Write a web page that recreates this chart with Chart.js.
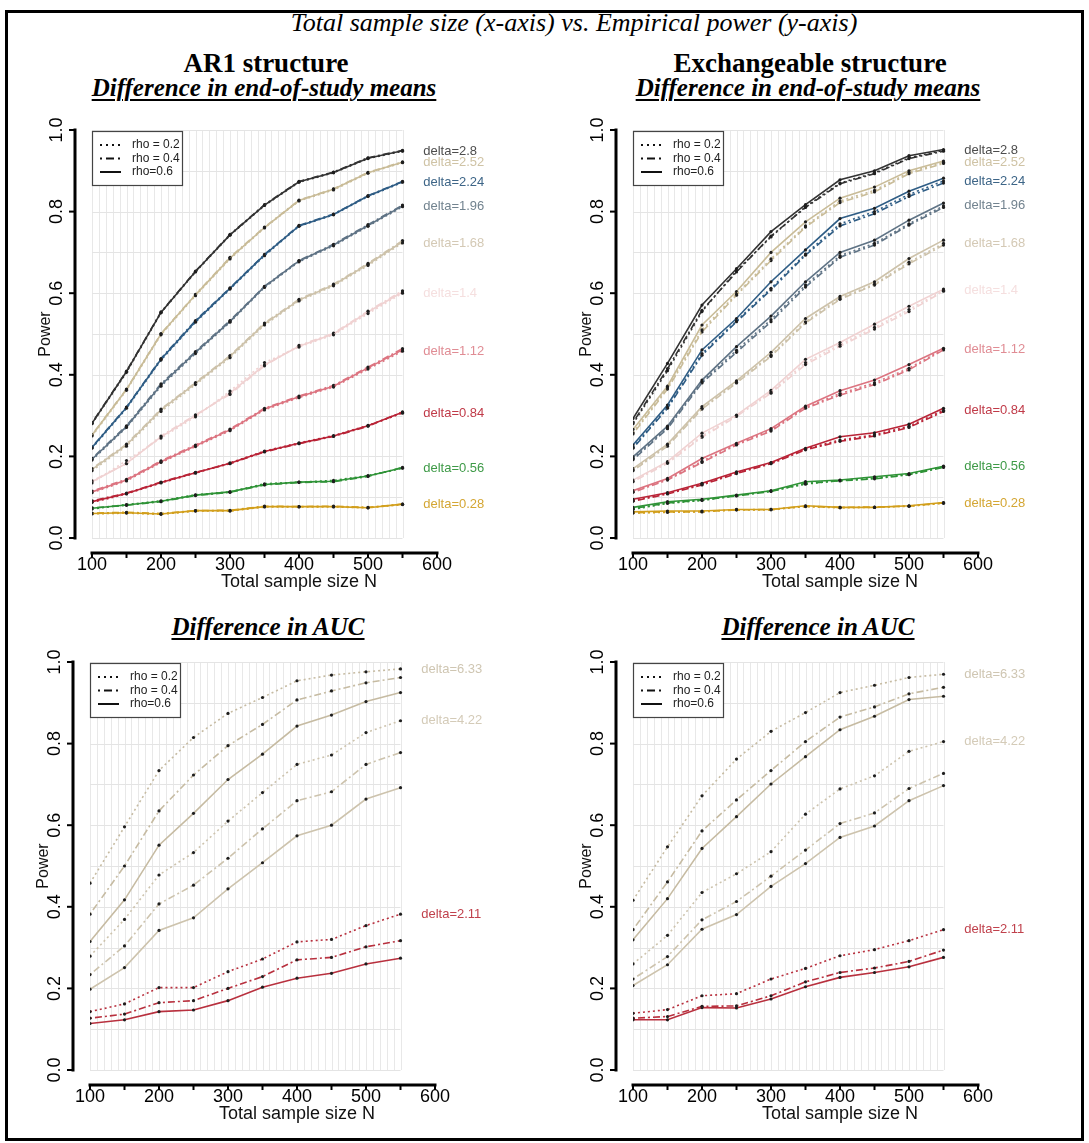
<!DOCTYPE html>
<html>
<head>
<meta charset="utf-8">
<title>Empirical power</title>
<script src="https://cdn.jsdelivr.net/npm/chart.js@4.4.1/dist/chart.umd.min.js"></script>
<style>
  body { margin: 0; background: #fff; width: 1089px; height: 1143px; position: relative; overflow: hidden; }
  .frame { position: absolute; left: 5px; top: 10px; width: 1073px; height: 1125px; border: 3px solid #000; }
  canvas { position: absolute; }
  .t { position: absolute; transform: translateX(-50%); font-family: "Liberation Serif", "Times New Roman", serif; color: #000; white-space: nowrap; line-height: 1; }
  .main { font-style: italic; font-size: 26px; }
  .struct { font-weight: bold; font-size: 27px; }
  .sub { font-weight: bold; font-style: italic; font-size: 25px; text-decoration: underline; text-decoration-thickness: 2px; text-underline-offset: 3px; }
</style>
</head>
<body>
<div class="frame"></div>
<div class="t main" style="left:574px; top:10px;">Total sample size (x-axis) vs. Empirical power (y-axis)</div>
<div class="t struct" style="left:266px; top:50px;">AR1 structure</div>
<div class="t struct" style="left:810px; top:50px;">Exchangeable structure</div>
<div class="t sub" style="left:264px; top:75px;">Difference in end-of-study means</div>
<div class="t sub" style="left:808px; top:75px;">Difference in end-of-study means</div>
<div class="t sub" style="left:268px; top:614px;">Difference in AUC</div>
<div class="t sub" style="left:818px; top:614px;">Difference in AUC</div>

<canvas id="ar1Means" width="540" height="520" style="left:0px; top:90px;"></canvas>
<canvas id="exchMeans" width="540" height="520" style="left:541px; top:90px;"></canvas>
<canvas id="ar1Auc" width="540" height="520" style="left:-2px; top:622px;"></canvas>
<canvas id="exchAuc" width="540" height="520" style="left:541px; top:622px;"></canvas>

<script>
// sample sizes simulated, and axis ticks
var sampleSizes = [100, 150, 200, 250, 300, 350, 400, 450, 500, 550];
var xTickLabels = [100, 200, 300, 400, 500, 600];
var yTickLabels = [0.0, 0.2, 0.4, 0.6, 0.8, 1.0];
var rhoLabels = ["rho = 0.2", "rho = 0.4", "rho=0.6"];

var meanDeltas = ["2.8", "2.52", "2.24", "1.96", "1.68", "1.4", "1.12", "0.84", "0.56", "0.28"];
var aucDeltas = ["6.33", "4.22", "2.11"];

// AR1 structure, difference in end-of-study means (one row per delta)
var ar1MeansRho02 = [
  [0.280, 0.406, 0.552, 0.652, 0.742, 0.815, 0.872, 0.895, 0.930, 0.948],
  [0.250, 0.362, 0.498, 0.594, 0.684, 0.760, 0.826, 0.853, 0.894, 0.920],
  [0.220, 0.318, 0.436, 0.529, 0.610, 0.692, 0.764, 0.792, 0.837, 0.872],
  [0.191, 0.271, 0.372, 0.452, 0.529, 0.614, 0.677, 0.716, 0.764, 0.812],
  [0.165, 0.225, 0.310, 0.376, 0.442, 0.522, 0.581, 0.618, 0.668, 0.723],
  [0.135, 0.190, 0.245, 0.297, 0.360, 0.430, 0.468, 0.498, 0.550, 0.600],
  [0.111, 0.140, 0.185, 0.224, 0.263, 0.314, 0.344, 0.370, 0.414, 0.458],
  [0.087, 0.108, 0.135, 0.159, 0.184, 0.213, 0.233, 0.251, 0.276, 0.306],
  [0.071, 0.082, 0.091, 0.106, 0.113, 0.133, 0.137, 0.141, 0.153, 0.171],
  [0.059, 0.061, 0.058, 0.066, 0.066, 0.076, 0.076, 0.076, 0.074, 0.082]
];
var ar1MeansRho04 = [
  [0.282, 0.409, 0.554, 0.654, 0.744, 0.817, 0.874, 0.897, 0.932, 0.950],
  [0.253, 0.365, 0.501, 0.597, 0.688, 0.762, 0.828, 0.856, 0.896, 0.922],
  [0.223, 0.321, 0.440, 0.533, 0.613, 0.695, 0.766, 0.794, 0.839, 0.874],
  [0.195, 0.275, 0.378, 0.457, 0.533, 0.617, 0.680, 0.720, 0.768, 0.816],
  [0.170, 0.230, 0.316, 0.381, 0.447, 0.527, 0.585, 0.622, 0.673, 0.729],
  [0.140, 0.182, 0.250, 0.302, 0.352, 0.422, 0.472, 0.502, 0.556, 0.606],
  [0.115, 0.144, 0.189, 0.228, 0.267, 0.318, 0.348, 0.374, 0.419, 0.464],
  [0.091, 0.110, 0.137, 0.161, 0.182, 0.211, 0.231, 0.249, 0.274, 0.309],
  [0.074, 0.080, 0.089, 0.104, 0.112, 0.130, 0.136, 0.138, 0.151, 0.173],
  [0.061, 0.063, 0.060, 0.067, 0.068, 0.078, 0.077, 0.078, 0.075, 0.083]
];
var ar1MeansRho06 = [
  [0.281, 0.408, 0.553, 0.653, 0.743, 0.816, 0.873, 0.896, 0.931, 0.949],
  [0.252, 0.364, 0.500, 0.596, 0.686, 0.761, 0.827, 0.855, 0.895, 0.921],
  [0.222, 0.320, 0.438, 0.531, 0.612, 0.694, 0.765, 0.793, 0.838, 0.873],
  [0.193, 0.273, 0.375, 0.455, 0.531, 0.616, 0.679, 0.718, 0.766, 0.814],
  [0.168, 0.228, 0.314, 0.379, 0.445, 0.525, 0.583, 0.620, 0.671, 0.726],
  [0.138, 0.183, 0.248, 0.300, 0.355, 0.424, 0.470, 0.500, 0.554, 0.603],
  [0.113, 0.142, 0.187, 0.226, 0.265, 0.316, 0.346, 0.372, 0.417, 0.461],
  [0.089, 0.109, 0.136, 0.160, 0.183, 0.212, 0.232, 0.250, 0.275, 0.308],
  [0.073, 0.081, 0.090, 0.105, 0.113, 0.131, 0.137, 0.139, 0.152, 0.172],
  [0.060, 0.062, 0.059, 0.067, 0.067, 0.077, 0.077, 0.077, 0.074, 0.083]
];

// exchangeable structure, difference in end-of-study means
var exchMeansRho02 = [
  [0.280, 0.410, 0.555, 0.655, 0.738, 0.812, 0.870, 0.895, 0.932, 0.950],
  [0.258, 0.368, 0.510, 0.598, 0.684, 0.765, 0.826, 0.852, 0.896, 0.921],
  [0.222, 0.320, 0.452, 0.532, 0.612, 0.696, 0.770, 0.800, 0.842, 0.875],
  [0.195, 0.270, 0.383, 0.460, 0.535, 0.620, 0.692, 0.722, 0.770, 0.814],
  [0.167, 0.228, 0.318, 0.382, 0.448, 0.530, 0.588, 0.622, 0.676, 0.722],
  [0.140, 0.185, 0.250, 0.300, 0.358, 0.430, 0.474, 0.516, 0.560, 0.607],
  [0.114, 0.144, 0.188, 0.230, 0.265, 0.320, 0.354, 0.380, 0.416, 0.463],
  [0.092, 0.110, 0.132, 0.160, 0.184, 0.218, 0.240, 0.253, 0.274, 0.313],
  [0.070, 0.085, 0.092, 0.104, 0.115, 0.132, 0.141, 0.147, 0.156, 0.175],
  [0.061, 0.063, 0.065, 0.069, 0.069, 0.077, 0.074, 0.075, 0.078, 0.085]
];
var exchMeansRho04 = [
  [0.283, 0.415, 0.558, 0.652, 0.740, 0.810, 0.868, 0.893, 0.930, 0.948],
  [0.255, 0.365, 0.505, 0.595, 0.680, 0.762, 0.822, 0.848, 0.893, 0.918],
  [0.220, 0.318, 0.448, 0.530, 0.608, 0.693, 0.765, 0.795, 0.837, 0.870],
  [0.192, 0.268, 0.380, 0.455, 0.530, 0.615, 0.688, 0.718, 0.767, 0.810],
  [0.165, 0.225, 0.316, 0.380, 0.445, 0.527, 0.585, 0.620, 0.672, 0.718],
  [0.138, 0.183, 0.247, 0.298, 0.355, 0.425, 0.470, 0.512, 0.555, 0.605],
  [0.112, 0.142, 0.185, 0.228, 0.262, 0.318, 0.350, 0.376, 0.412, 0.461],
  [0.090, 0.108, 0.130, 0.158, 0.182, 0.216, 0.237, 0.250, 0.271, 0.310],
  [0.072, 0.086, 0.093, 0.103, 0.114, 0.134, 0.140, 0.145, 0.155, 0.173],
  [0.062, 0.064, 0.064, 0.069, 0.070, 0.078, 0.075, 0.076, 0.078, 0.086]
];
var exchMeansRho06 = [
  [0.293, 0.428, 0.571, 0.660, 0.751, 0.817, 0.878, 0.900, 0.937, 0.952],
  [0.266, 0.372, 0.522, 0.604, 0.700, 0.775, 0.833, 0.860, 0.900, 0.924],
  [0.228, 0.326, 0.461, 0.538, 0.628, 0.706, 0.783, 0.808, 0.850, 0.882],
  [0.199, 0.274, 0.387, 0.469, 0.544, 0.628, 0.700, 0.730, 0.779, 0.821],
  [0.170, 0.230, 0.322, 0.385, 0.455, 0.538, 0.592, 0.628, 0.685, 0.730],
  [0.142, 0.187, 0.257, 0.301, 0.362, 0.438, 0.479, 0.524, 0.568, 0.610],
  [0.116, 0.146, 0.195, 0.232, 0.268, 0.323, 0.361, 0.387, 0.425, 0.465],
  [0.095, 0.111, 0.134, 0.162, 0.185, 0.220, 0.248, 0.258, 0.279, 0.318],
  [0.075, 0.089, 0.095, 0.105, 0.116, 0.138, 0.142, 0.150, 0.158, 0.176],
  [0.064, 0.066, 0.066, 0.070, 0.070, 0.079, 0.075, 0.075, 0.079, 0.087]
];

// AR1 structure, difference in AUC
var ar1AucRho02 = [
  [0.458, 0.596, 0.734, 0.815, 0.874, 0.913, 0.954, 0.968, 0.976, 0.983],
  [0.279, 0.369, 0.478, 0.533, 0.610, 0.680, 0.749, 0.772, 0.827, 0.856],
  [0.143, 0.162, 0.202, 0.202, 0.241, 0.272, 0.314, 0.320, 0.354, 0.382]
];
var ar1AucRho04 = [
  [0.382, 0.500, 0.635, 0.723, 0.795, 0.847, 0.907, 0.929, 0.949, 0.962],
  [0.234, 0.304, 0.407, 0.453, 0.519, 0.591, 0.660, 0.682, 0.749, 0.778],
  [0.127, 0.137, 0.165, 0.170, 0.200, 0.229, 0.270, 0.276, 0.302, 0.317]
];
var ar1AucRho06 = [
  [0.315, 0.417, 0.551, 0.629, 0.712, 0.774, 0.843, 0.870, 0.903, 0.925],
  [0.198, 0.251, 0.342, 0.373, 0.444, 0.508, 0.574, 0.600, 0.664, 0.692],
  [0.114, 0.123, 0.143, 0.147, 0.170, 0.203, 0.225, 0.237, 0.260, 0.274]
];

// exchangeable structure, difference in AUC
var exchAucRho02 = [
  [0.416, 0.547, 0.672, 0.762, 0.830, 0.876, 0.925, 0.943, 0.962, 0.970],
  [0.260, 0.330, 0.435, 0.481, 0.535, 0.627, 0.689, 0.721, 0.781, 0.805],
  [0.139, 0.148, 0.182, 0.187, 0.223, 0.249, 0.280, 0.295, 0.317, 0.344]
];
var exchAucRho04 = [
  [0.344, 0.461, 0.586, 0.662, 0.734, 0.805, 0.865, 0.890, 0.922, 0.938],
  [0.223, 0.278, 0.368, 0.413, 0.475, 0.539, 0.604, 0.630, 0.690, 0.727],
  [0.127, 0.131, 0.156, 0.157, 0.182, 0.216, 0.239, 0.250, 0.266, 0.294]
];
var exchAucRho06 = [
  [0.319, 0.420, 0.543, 0.621, 0.701, 0.768, 0.834, 0.867, 0.908, 0.916],
  [0.207, 0.258, 0.345, 0.381, 0.450, 0.506, 0.570, 0.598, 0.660, 0.697],
  [0.123, 0.123, 0.153, 0.152, 0.174, 0.204, 0.227, 0.239, 0.253, 0.276]
];

// colours per delta: line colour and label colour
var meanLineColors = ["#333333", "#c9bc98", "#2f5d85", "#5f7385", "#cdc2aa", "#f0d2d2", "#dc7480", "#b92437", "#2f9337", "#d29f1c"];
var meanTextColors = ["#4d4d4d", "#cfc3a5", "#3d6587", "#72838f", "#d4c9b5", "#f5dfdf", "#e08c94", "#c03a48", "#3e9a47", "#d4a633"];
var aucLineColors = ["#c6bba2", "#cdc3ad", "#b8303e"];
var aucTextColors = ["#cfc6b2", "#d4cbb8", "#c0414c"];

var rhoDash = [[2, 3], [2, 3, 7, 3], []];

function buildSets(deltas, colors, series) {
  var sets = [];
  deltas.forEach(function (d, i) {
    series.forEach(function (s, r) {
      sets.push({
        label: "delta=" + d + ", " + rhoLabels[r],
        data: s[i].map(function (v, k) { return { x: sampleSizes[k], y: v }; }),
        borderColor: colors[i],
        borderWidth: 1.6,
        borderDash: rhoDash[r],
        pointRadius: 1.6,
        pointBackgroundColor: "#1e1e1e",
        pointBorderWidth: 0,
        tension: 0
      });
    });
  });
  return sets;
}

// R-style panel: grid, detached axes, legend box and delta labels
var rPanel = {
  id: "rPanel",
  beforeDatasetsDraw: function (chart) {
    var ctx = chart.ctx, xs = chart.scales.x, ys = chart.scales.y;
    ctx.save();
    ctx.lineWidth = 1;
    ctx.strokeStyle = "#e8e8e8";
    for (var v = 100; v <= 550; v += 10) {
      var px = Math.round(xs.getPixelForValue(v)) + 0.5;
      ctx.beginPath();
      ctx.moveTo(px, ys.getPixelForValue(0));
      ctx.lineTo(px, ys.getPixelForValue(1));
      ctx.stroke();
    }
    ctx.strokeStyle = "#e4e4e4";
    for (var h = 0; h <= 10; h++) {
      var py = Math.round(ys.getPixelForValue(h / 10)) + 0.5;
      ctx.beginPath();
      ctx.moveTo(xs.getPixelForValue(100), py);
      ctx.lineTo(xs.getPixelForValue(550), py);
      ctx.stroke();
    }
    ctx.restore();
  },
  afterDatasetsDraw: function (chart, args, opts) {
    var ctx = chart.ctx, xs = chart.scales.x, ys = chart.scales.y;
    var y0 = ys.getPixelForValue(0), y1 = ys.getPixelForValue(1);
    var x100 = xs.getPixelForValue(100);
    var axisX = x100 - 17, axisY = y0 + 15;
    ctx.save();
    ctx.strokeStyle = "#000";
    ctx.fillStyle = "#000";

    // y axis
    ctx.lineWidth = 3;
    ctx.beginPath();
    ctx.moveTo(axisX, y0 + 1.5);
    ctx.lineTo(axisX, y1 - 1.5);
    ctx.stroke();
    ctx.lineWidth = 2;
    ctx.font = "18px 'Liberation Sans', Arial, sans-serif";
    ctx.textAlign = "center";
    ctx.textBaseline = "middle";
    yTickLabels.forEach(function (t) {
      var py = ys.getPixelForValue(t);
      ctx.beginPath();
      ctx.moveTo(axisX, py);
      ctx.lineTo(axisX - 6, py);
      ctx.stroke();
      ctx.save();
      ctx.translate(axisX - 18, py);
      ctx.rotate(-Math.PI / 2);
      ctx.fillText(t.toFixed(1), 0, 0);
      ctx.restore();
    });

    // x axis
    ctx.lineWidth = 3;
    ctx.beginPath();
    ctx.moveTo(x100 - 1.5, axisY);
    ctx.lineTo(xs.getPixelForValue(600) + 1.5, axisY);
    ctx.stroke();
    ctx.lineWidth = 2;
    for (var v = 100; v <= 600; v += 50) {
      var px = xs.getPixelForValue(v);
      ctx.beginPath();
      ctx.moveTo(px, axisY);
      ctx.lineTo(px, axisY + 5);
      ctx.stroke();
    }
    ctx.font = "18px 'Liberation Sans', Arial, sans-serif";
    xTickLabels.forEach(function (t) {
      ctx.fillText(String(t), xs.getPixelForValue(t), axisY + 12);
    });

    // axis titles
    ctx.fillStyle = "#111";
    ctx.font = "18px 'Liberation Sans', Arial, sans-serif";
    ctx.fillText("Total sample size N", (chart.chartArea.left + chart.chartArea.right) / 2, y0 + 44);
    ctx.save();
    ctx.font = "16px 'Liberation Sans', Arial, sans-serif";
    ctx.translate(axisX - 29, (y0 + y1) / 2);
    ctx.rotate(-Math.PI / 2);
    ctx.fillText("Power", 0, 0);
    ctx.restore();

    // legend box
    var lx = x100, ly = y1 + 1;
    ctx.fillStyle = "#fff";
    ctx.fillRect(lx, ly, 90, 54);
    ctx.strokeStyle = "#444";
    ctx.lineWidth = 1.2;
    ctx.strokeRect(lx + 0.5, ly + 0.5, 90, 54);
    ctx.font = "12px 'Liberation Sans', Arial, sans-serif";
    ctx.textAlign = "left";
    ctx.fillStyle = "#222";
    rhoLabels.forEach(function (lab, r) {
      var ry = ly + 14 + r * 13.5;
      ctx.save();
      ctx.strokeStyle = "#111";
      ctx.lineWidth = 2;
      ctx.setLineDash(r === 0 ? [2, 4] : r === 1 ? [2, 4, 8, 4] : []);
      ctx.beginPath();
      ctx.moveTo(lx + 8, ry);
      ctx.lineTo(lx + 29, ry);
      ctx.stroke();
      ctx.restore();
      ctx.fillText(lab, lx + 40, ry);
    });

    // delta labels, placed at the end of the rho = 0.2 line
    ctx.font = "13px 'Liberation Sans', Arial, sans-serif";
    opts.deltas.forEach(function (d, i) {
      var set = chart.data.datasets[i * 3].data;
      var last = set[set.length - 1].y;
      ctx.fillStyle = opts.textColors[i];
      ctx.fillText("delta=" + d, xs.getPixelForValue(580), ys.getPixelForValue(last));
    });
    ctx.restore();
  }
};

function makePanel(id, deltas, lineColors, textColors, series) {
  var ctx = document.getElementById(id).getContext("2d");
  return new Chart(ctx, {
    type: "line",
    data: { datasets: buildSets(deltas, lineColors, series) },
    options: {
      responsive: false,
      animation: false,
      devicePixelRatio: 1,
      layout: { padding: { left: 92, top: 40, right: 34, bottom: 72 } },
      scales: {
        x: { type: "linear", min: 100, max: 700, display: false },
        y: { type: "linear", min: 0, max: 1, display: false }
      },
      plugins: {
        legend: { display: false },
        tooltip: { enabled: false },
        rPanel: { deltas: deltas, textColors: textColors }
      }
    },
    plugins: [rPanel]
  });
}

makePanel("ar1Means", meanDeltas, meanLineColors, meanTextColors, [ar1MeansRho02, ar1MeansRho04, ar1MeansRho06]);
makePanel("exchMeans", meanDeltas, meanLineColors, meanTextColors, [exchMeansRho02, exchMeansRho04, exchMeansRho06]);
makePanel("ar1Auc", aucDeltas, aucLineColors, aucTextColors, [ar1AucRho02, ar1AucRho04, ar1AucRho06]);
makePanel("exchAuc", aucDeltas, aucLineColors, aucTextColors, [exchAucRho02, exchAucRho04, exchAucRho06]);
</script>
</body>
</html>
